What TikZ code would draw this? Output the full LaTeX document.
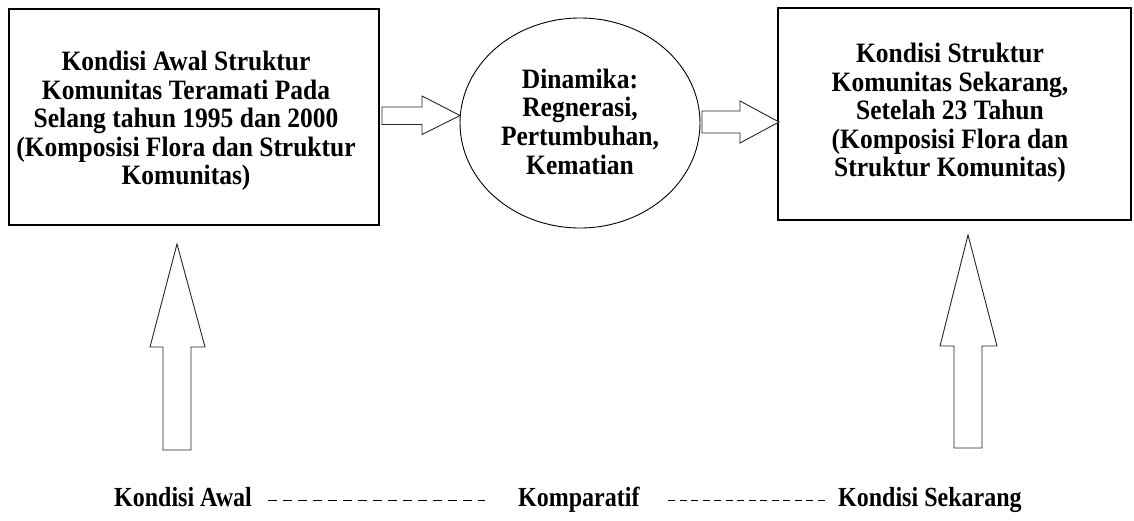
\documentclass[tikz,border=0pt]{standalone}
\usepackage{fontspec}
\setmainfont{Liberation Serif}
\usetikzlibrary{shapes.geometric}
\newcommand{\tallc}[1]{\scalebox{1}[1.1]{\begin{tabular}{@{}c@{}}#1\end{tabular}}}
\newcommand{\tallb}[1]{\scalebox{1}[1.15]{#1}}
\begin{document}
\begin{tikzpicture}[x=1pt,y=-1pt,
  txt/.style={font=\bfseries\fontsize{25.5}{26}\selectfont, align=center, inner sep=0pt},
  btxt/.style={font=\bfseries\fontsize{24}{28}\selectfont, inner sep=0pt, anchor=base west},
  box/.style={draw, line width=1.2pt, inner sep=0pt},
  blk/.style={draw=black!85, line width=0.9pt, fill=white, line join=miter},
  dsh/.style={line width=1pt}]
\useasboundingbox (0,0) rectangle (1134,520);

% boxes
\node[box, minimum width=370pt, minimum height=216pt] (L) at (194,117) {};
\node[box, minimum width=353pt, minimum height=212pt] (R) at (954.5,114) {};
\node[draw, ellipse, line width=0.9pt, minimum width=240pt, minimum height=210pt] (C) at (580,123) {};

\node[txt] (Ct) at (580,125.5) {\tallc{Dinamika:\\Regnerasi,\\Pertumbuhan,\\Kematian}};
\node[txt] (Lt) at (186,122) {\tallc{Kondisi Awal Struktur\\Komunitas Teramati Pada\\Selang tahun 1995 dan 2000\\(Komposisi Flora dan Struktur\\Komunitas)}};
\node[txt] (Rt) at (950,114) {\tallc{Kondisi Struktur\\Komunitas Sekarang,\\Setelah 23 Tahun\\(Komposisi Flora dan\\Struktur Komunitas)}};

% block arrows
\coordinate (a1s) at (382,116);
\coordinate (a1t) at (460,115.5);
\draw[blk] (a1s) ++(0,-9) -- ++(40,0) -- ++(0,-11) -- (a1t) -- ++(-38,19) -- ++(0,-10) -- ++(-40,0) -- cycle;

\coordinate (a2s) at (702,122);
\coordinate (a2t) at (779,122);
\draw[blk] (a2s) ++(0,-11) -- ++(38,0) -- ++(0,-10) -- (a2t) -- ++(-39,21) -- ++(0,-10) -- ++(-38,0) -- cycle;

\coordinate (u1s) at (177,450);
\coordinate (u1t) at (177,244);
\draw[blk] (u1s) ++(-14,0) -- ++(0,-103) -- ++(-13,0) -- (u1t) -- ++(28,103) -- ++(-14,0) -- ++(0,103) -- cycle;

\coordinate (u2s) at (968,448);
\coordinate (u2t) at (968,235);
\draw[blk] (u2s) ++(-14,0) -- ++(0,-102) -- ++(-14,0) -- (u2t) -- ++(29,111) -- ++(-15,0) -- ++(0,102) -- cycle;

% bottom row
\node[btxt] (kA) at (114,506) {\tallb{Kondisi Awal}};
\node[btxt] (kK) at (518,506) {\tallb{Komparatif}};
\node[btxt] (kS) at (838,506) {\tallb{Kondisi Sekarang}};

\coordinate (d1a) at (268,500);
\coordinate (d1b) at (485,500);
\coordinate (d2a) at (668,500);
\coordinate (d2b) at (825,500);
\draw[dsh, dash pattern=on 9pt off 6pt] (d1a) -- (d1b);
\draw[dsh, dash pattern=on 7pt off 4.5pt] (d2a) -- (d2b);
\end{tikzpicture}
\end{document}
